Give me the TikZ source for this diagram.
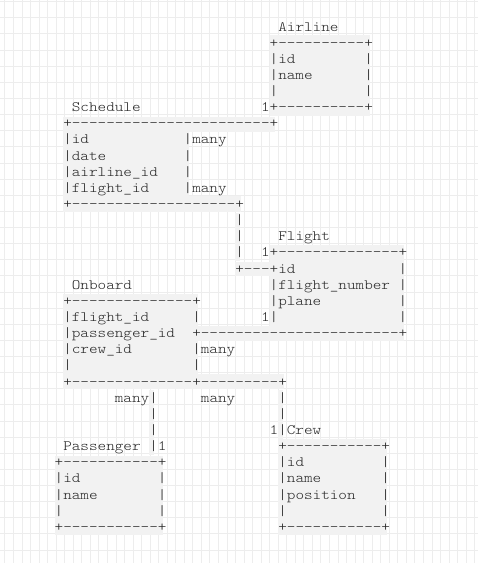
\documentclass[tikz,border=0pt]{standalone}
\usepackage{fontspec}
\newfontfamily\asciifont{lmmonolt10-regular.otf}[FakeStretch=1.143, Ligatures=TeXOff]
\newcommand{\asciitext}{\asciifont\fontsize{14.33pt}{16pt}\selectfont\frenchspacing}

\tikzset{
	ascii/.style={anchor=base west, inner sep=0pt, outer sep=0pt, text=black!85, font=\asciitext, yshift=-4pt},
	hilite/.style={fill=black!5, draw=none},
	rasterline/.style={draw=black!7, line width=1pt}
}

\begin{document}
\begin{tikzpicture}[x=8.6pt, y=-16.14pt]
	% Raster
	\begin{scope}[x=1pt, y=-1pt, shift={(-3.1,-10.86)}]
		\useasboundingbox (0,0) rectangle (478,563);
		\fill[white] (0,0) rectangle (478,563);
		\foreach \k in {0,...,55}
			\draw[rasterline] ({5+8.54*\k},0) -- ({5+8.54*\k},563);
		\foreach \k in {0,...,34}
			\draw[rasterline] (0,{1.7+16.13*\k}) -- (478,{1.7+16.13*\k});
	\end{scope}
	
	% Hinterlegung
	\fill[hilite] (31,1.5) rectangle (42.65,6.5);
	\fill[hilite] (7,6.55) rectangle (31.65,7.5);
	\fill[hilite] (7,7.5) rectangle (21.65,11.5);
	\fill[hilite] (7,11.5) rectangle (27.65,12.45);
	\fill[hilite] (27,12.5) rectangle (27.5,15.5);
	\fill[hilite] (27,15.55) rectangle (31.65,16.45);
	\fill[hilite] (31,14.5) rectangle (46.65,19.5);
	\fill[hilite] (22,19.5) rectangle (46.65,20.45);
	\fill[hilite] (7,17.55) rectangle (22.65,22.5);
	\fill[hilite] (7,22.5) rectangle (32.65,23.45);
	\fill[hilite] (17,23.5) rectangle (17.5,27.5);
	\fill[hilite] (32,23.5) rectangle (32.5,26.5);
	\fill[hilite] (6,27.55) rectangle (18.65,32.5);
	\fill[hilite] (32,26.55) rectangle (44.65,32.5);
	
	% Airline
	\node[ascii] (airlineTitle) at (32,1) {Airline};
	\node[ascii] (airlineTop) at (31,2) {+----------+};
	\node[ascii] (airlineId) at (31,3) {|id~~~~~~~~|};
	\node[ascii] (airlineName) at (31,4) {|name~~~~~~|};
	\node[ascii] (airlineGap) at (31,5) {|~~~~~~~~~~|};
	\node[ascii] (airlineBottom) at (30,6) {1+----------+};
	
	% Schedule
	\node[ascii] (scheduleTitle) at (8,6) {Schedule};
	\node[ascii] (scheduleTop) at (7,7) {+-----------------------+};
	\node[ascii] (scheduleId) at (7,8) {|id~~~~~~~~~~~|many};
	\node[ascii] (scheduleDate) at (7,9) {|date~~~~~~~~~|};
	\node[ascii] (scheduleAirline) at (7,10) {|airline\_id~~~|};
	\node[ascii] (scheduleFlight) at (7,11) {|flight\_id~~~~|many};
	\node[ascii] (scheduleBottom) at (7,12) {+-------------------+};
	
	% Schedule - Flight
	\node[ascii] (flightLinkA) at (27,13) {|};
	\node[ascii] (flightLinkB) at (27,14) {|};
	\node[ascii] (flightLinkC) at (27,15) {|};
	
	% Flight
	\node[ascii] (flightTitle) at (32,14) {Flight};
	\node[ascii] (flightTop) at (30,15) {1+--------------+};
	\node[ascii] (flightId) at (27,16) {+---+id~~~~~~~~~~~~|};
	\node[ascii] (flightNumber) at (31,17) {|flight\_number~|};
	\node[ascii] (flightPlane) at (31,18) {|plane~~~~~~~~~|};
	\node[ascii] (flightGap) at (30,19) {1|~~~~~~~~~~~~~~|};
	
	% Onboard
	\node[ascii] (onboardTitle) at (8,17) {Onboard};
	\node[ascii] (onboardTop) at (7,18) {+--------------+};
	\node[ascii] (onboardFlight) at (7,19) {|flight\_id~~~~~|};
	\node[ascii] (onboardPassenger) at (7,20) {|passenger\_id~~+-----------------------+};
	\node[ascii] (onboardCrew) at (7,21) {|crew\_id~~~~~~~|many};
	\node[ascii] (onboardGap) at (7,22) {|~~~~~~~~~~~~~~|};
	\node[ascii] (onboardBottom) at (7,23) {+--------------+---------+};
	
	% Onboard - Passenger / Crew
	\node[ascii] (passengerLinkA) at (13,24) {many|};
	\node[ascii] (crewMany) at (23,24) {many};
	\node[ascii] (crewLinkA) at (32,24) {|};
	\node[ascii] (passengerLinkB) at (17,25) {|};
	\node[ascii] (crewLinkB) at (32,25) {|};
	\node[ascii] (passengerLinkC) at (17,26) {|};
	\node[ascii] (crewTitle) at (31,26) {1|Crew};
	
	% Passenger
	\node[ascii] (passengerTitle) at (7,27) {Passenger~|1};
	\node[ascii] (passengerTop) at (6,28) {+-----------+};
	\node[ascii] (passengerId) at (6,29) {|id~~~~~~~~~|};
	\node[ascii] (passengerName) at (6,30) {|name~~~~~~~|};
	\node[ascii] (passengerGap) at (6,31) {|~~~~~~~~~~~|};
	\node[ascii] (passengerBottom) at (6,32) {+-----------+};
	
	% Crew
	\node[ascii] (crewTop) at (32,27) {+-----------+};
	\node[ascii] (crewId) at (32,28) {|id~~~~~~~~~|};
	\node[ascii] (crewName) at (32,29) {|name~~~~~~~|};
	\node[ascii] (crewPosition) at (32,30) {|position~~~|};
	\node[ascii] (crewGap) at (32,31) {|~~~~~~~~~~~|};
	\node[ascii] (crewBottom) at (32,32) {+-----------+};
\end{tikzpicture}
\end{document}
